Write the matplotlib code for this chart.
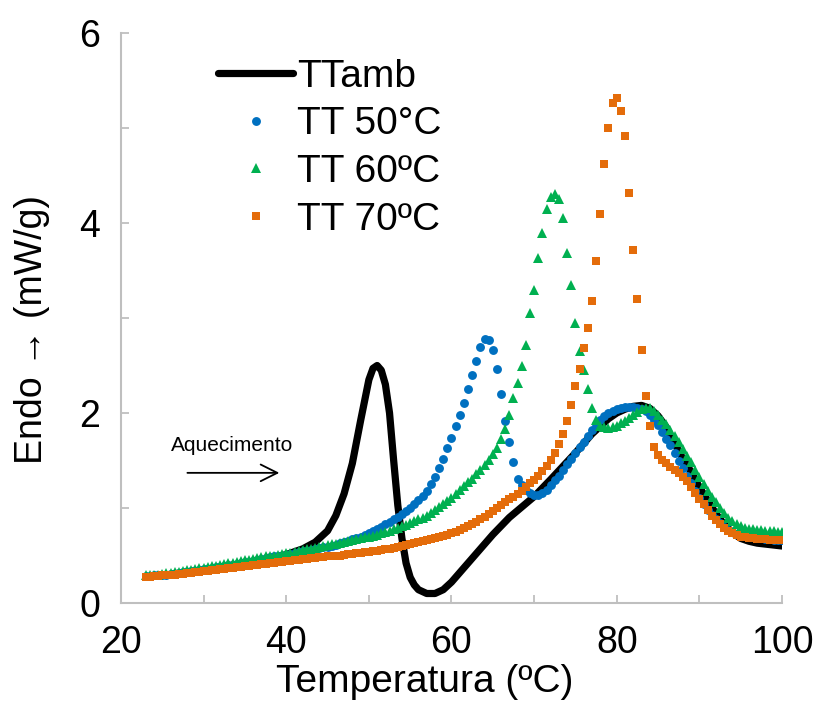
import numpy as np
import matplotlib
matplotlib.use('Agg')
import matplotlib.pyplot as plt
from matplotlib.ticker import MultipleLocator, FixedLocator, NullFormatter

plt.rcParams['font.family'] = ['Liberation Sans', 'DejaVu Sans']

# temperature grid of the marker series (0.5 degC step, 23..100)
temps = np.arange(23, 100.25, 0.5)

# TT 50 C (blue circles)
tt50 = [0.28, 0.28, 0.29, 0.29, 0.30, 0.30, 0.31, 0.31, 0.32, 0.33,
        0.33, 0.34, 0.34, 0.35, 0.36, 0.36, 0.37, 0.38, 0.38, 0.39,
        0.40, 0.40, 0.41, 0.42, 0.43, 0.43, 0.44, 0.45, 0.46, 0.47,
        0.48, 0.49, 0.50, 0.50, 0.51, 0.52, 0.53, 0.54, 0.55, 0.55,
        0.56, 0.57, 0.58, 0.59, 0.59, 0.60, 0.61, 0.63, 0.64, 0.65,
        0.67, 0.68, 0.70, 0.72, 0.74, 0.76, 0.78, 0.80, 0.83, 0.85,
        0.88, 0.91, 0.94, 0.97, 1.00, 1.04, 1.08, 1.13, 1.18, 1.25,
        1.33, 1.42, 1.52, 1.63, 1.74, 1.86, 1.98, 2.11, 2.25, 2.40,
        2.55, 2.70, 2.78, 2.77, 2.66, 2.46, 2.20, 1.92, 1.70, 1.48,
        1.31, 1.24, 1.19, 1.16, 1.14, 1.14, 1.16, 1.19, 1.24, 1.29,
        1.34, 1.40, 1.46, 1.52, 1.58, 1.64, 1.70, 1.76, 1.82, 1.88,
        1.93, 1.97, 2.00, 2.02, 2.04, 2.05, 2.06, 2.06, 2.06, 2.05,
        2.04, 2.02, 1.98, 1.93, 1.87, 1.80, 1.73, 1.66, 1.58, 1.50,
        1.42, 1.34, 1.26, 1.18, 1.11, 1.04, 0.98, 0.93, 0.88, 0.84,
        0.80, 0.77, 0.75, 0.73, 0.72, 0.71, 0.70, 0.69, 0.68, 0.68,
        0.67, 0.67, 0.66, 0.66, 0.66]

# TT 60 C (green triangles)
tt60 = [0.29, 0.29, 0.30, 0.30, 0.31, 0.32, 0.32, 0.33, 0.33, 0.34,
        0.35, 0.35, 0.36, 0.37, 0.37, 0.38, 0.39, 0.39, 0.40, 0.41,
        0.42, 0.42, 0.43, 0.44, 0.45, 0.45, 0.46, 0.47, 0.48, 0.49,
        0.49, 0.50, 0.51, 0.52, 0.53, 0.53, 0.54, 0.55, 0.56, 0.57,
        0.57, 0.58, 0.59, 0.60, 0.61, 0.62, 0.62, 0.63, 0.64, 0.65,
        0.66, 0.67, 0.68, 0.69, 0.70, 0.71, 0.72, 0.74, 0.75, 0.76,
        0.78, 0.79, 0.81, 0.82, 0.84, 0.86, 0.88, 0.90, 0.92, 0.95,
        0.98, 1.01, 1.04, 1.07, 1.11, 1.15, 1.19, 1.23, 1.27, 1.31,
        1.36, 1.40, 1.45, 1.51, 1.57, 1.63, 1.73, 1.83, 1.98, 2.16,
        2.32, 2.49, 2.72, 3.05, 3.30, 3.63, 3.90, 4.15, 4.27, 4.31,
        4.25, 4.05, 3.68, 3.35, 2.95, 2.65, 2.45, 2.25, 2.05, 1.93,
        1.86, 1.85, 1.84, 1.85, 1.86, 1.89, 1.92, 1.95, 1.98, 2.01,
        2.04, 2.05, 2.05, 2.02, 1.98, 1.93, 1.88, 1.82, 1.76, 1.69,
        1.62, 1.55, 1.48, 1.40, 1.33, 1.25, 1.18, 1.12, 1.06, 1.00,
        0.95, 0.90, 0.86, 0.83, 0.81, 0.79, 0.78, 0.78, 0.77, 0.77,
        0.76, 0.76, 0.76, 0.75, 0.75]

# TT 70 C (orange squares)
tt70 = [0.27, 0.27, 0.28, 0.28, 0.29, 0.29, 0.30, 0.30, 0.31, 0.31,
        0.32, 0.32, 0.33, 0.33, 0.34, 0.34, 0.35, 0.35, 0.36, 0.36,
        0.37, 0.37, 0.38, 0.38, 0.39, 0.39, 0.40, 0.40, 0.41, 0.41,
        0.42, 0.42, 0.43, 0.43, 0.44, 0.44, 0.45, 0.45, 0.46, 0.46,
        0.47, 0.47, 0.48, 0.48, 0.49, 0.49, 0.50, 0.50, 0.51, 0.52,
        0.52, 0.53, 0.53, 0.54, 0.54, 0.55, 0.55, 0.56, 0.57, 0.57,
        0.58, 0.59, 0.60, 0.61, 0.62, 0.63, 0.64, 0.65, 0.66, 0.67,
        0.68, 0.69, 0.71, 0.72, 0.74, 0.75, 0.77, 0.79, 0.81, 0.83,
        0.85, 0.88, 0.91, 0.94, 0.97, 1.00, 1.03, 1.06, 1.09, 1.12,
        1.15, 1.18, 1.22, 1.26, 1.30, 1.34, 1.39, 1.44, 1.51, 1.58,
        1.67, 1.78, 1.92, 2.08, 2.28, 2.46, 2.68, 2.90, 3.18, 3.60,
        4.10, 4.62, 5.00, 5.26, 5.32, 5.18, 4.92, 4.32, 3.72, 3.20,
        2.66, 2.18, 1.86, 1.64, 1.56, 1.51, 1.47, 1.43, 1.40, 1.37,
        1.33, 1.28, 1.22, 1.16, 1.10, 1.04, 0.98, 0.92, 0.87, 0.83,
        0.79, 0.76, 0.74, 0.72, 0.70, 0.69, 0.68, 0.68, 0.67, 0.67,
        0.67, 0.66, 0.66, 0.66, 0.66]

# TTamb (black line)
tamb_t = [23, 25, 30, 35, 38, 40, 42, 43.5, 45, 46, 47, 48, 49, 50, 50.5,
          51, 51.5, 52, 52.5, 53, 53.5, 54, 54.5, 55, 55.5, 56, 57, 58, 59, 60,
          61, 62, 63, 65, 67, 70, 72, 75, 77, 79, 80, 81, 82, 83, 84,
          85, 86, 87, 88, 89, 90, 91, 92, 93, 94, 95, 96, 97, 98, 100]
tamb = [0.27, 0.29, 0.35, 0.42, 0.47, 0.51, 0.57, 0.64, 0.76, 0.92, 1.15, 1.47, 1.92, 2.35, 2.47,
        2.50, 2.45, 2.30, 2.00, 1.50, 1.03, 0.68, 0.42, 0.27, 0.19, 0.14, 0.10, 0.10, 0.14, 0.22,
        0.32, 0.42, 0.52, 0.72, 0.90, 1.12, 1.30, 1.58, 1.78, 1.94, 2.00, 2.04, 2.07, 2.08, 2.05,
        1.97, 1.85, 1.68, 1.52, 1.38, 1.22, 1.08, 0.94, 0.83, 0.74, 0.68, 0.65, 0.63, 0.62, 0.60]

labels = ['TTamb', 'TT 50°C', 'TT 60ºC', 'TT 70ºC']
xticks = [20, 40, 60, 80, 100]
yticks = [0, 2, 4, 6]

grey = '#BFBFBF'

fig = plt.figure(figsize=(8.18, 7.09), dpi=100)
ax = fig.add_axes([121 / 818, 1 - 603 / 709, 661 / 818, 570 / 709])

ax.plot(tamb_t, tamb, color='black', lw=5.2, solid_joinstyle='round',
        solid_capstyle='round', label=labels[0], zorder=2)
ax.plot(temps, tt50, ls='none', marker='o', ms=6.4, mew=0,
        color='#0070C0', label=labels[1], zorder=3)
ax.plot(temps, tt60, ls='none', marker='^', ms=7.8, mew=0,
        color='#00B050', label=labels[2], zorder=4)
ax.plot(temps, tt70, ls='none', marker='s', ms=6.4, mew=0,
        color='#E46C0A', label=labels[3], zorder=5)

ax.set_xlim(20, 100)
ax.set_ylim(0, 6)
ax.xaxis.set_major_locator(FixedLocator(xticks))
ax.xaxis.set_minor_locator(MultipleLocator(10))
ax.yaxis.set_major_locator(FixedLocator(yticks))
ax.yaxis.set_minor_locator(MultipleLocator(1))
ax.xaxis.set_minor_formatter(NullFormatter())
ax.yaxis.set_minor_formatter(NullFormatter())

for side in ['top', 'right']:
    ax.spines[side].set_visible(False)
for side in ['left', 'bottom']:
    ax.spines[side].set_color(grey)
    ax.spines[side].set_linewidth(1.5)

ax.tick_params(which='both', direction='in', length=6, width=1.3, color=grey)
ax.tick_params(axis='x', which='major', labelsize=27, pad=16)
ax.tick_params(axis='y', which='major', labelsize=27, pad=15)

ax.set_xlabel('Temperatura (ºC)', fontsize=28)
ax.set_ylabel('Endo → (mW/g)', fontsize=27)
ax.xaxis.set_label_coords(0.46, -0.107)
ax.yaxis.set_label_coords(-0.107, 0.48)

ax.annotate('', xy=(39.5, 1.37), xytext=(27.7, 1.37),
            arrowprops=dict(arrowstyle='->', color='black', lw=1.3,
                            mutation_scale=30))
ax.text(33.4, 1.66, 'Aquecimento', fontsize=15, ha='center', va='center')

leg = ax.legend(loc='upper left', bbox_to_anchor=(0.147, 0.955), frameon=False,
                fontsize=28, handlelength=1.93, handletextpad=0.1,
                labelspacing=0.30, borderpad=0, borderaxespad=0, numpoints=1)

fig.savefig('out.png', dpi=100)
